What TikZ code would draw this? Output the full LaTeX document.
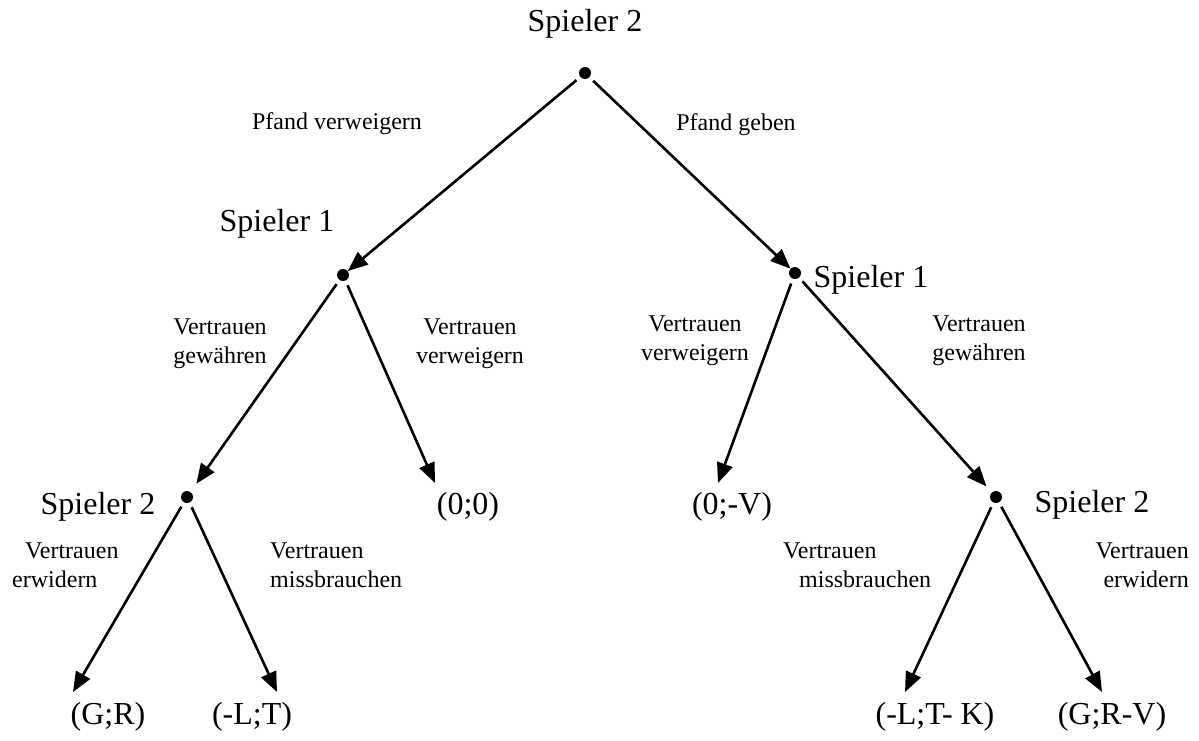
\documentclass[tikz,border=0pt]{standalone}
\usepackage{fontspec}
\setmainfont{Liberation Serif}
\usetikzlibrary{arrows.meta}
\begin{document}
\begin{tikzpicture}[x=1pt,y=-1pt,
  dot/.style={circle,fill=black,inner sep=0pt,minimum size=12pt},
  player/.style={inner sep=0pt,font=\fontsize{32}{36}\selectfont},
  payoff/.style={inner sep=0pt,font=\fontsize{32}{36}\selectfont},
  move/.style={inner sep=0pt,font=\fontsize{24}{29}\selectfont},
  edge/.style={line width=2.6pt,-{Triangle[length=20pt,width=16pt]}},
]
\useasboundingbox (0,0) rectangle (1199,740);

% decision nodes
\node[dot] (n0)  at (585,73)  {};
\node[dot] (n1L) at (343,275) {};
\node[dot] (n1R) at (795,273) {};
\node[dot] (n2L) at (187,497) {};
\node[dot] (n2R) at (996,497) {};

% player names
\node[player] (s0)  at (585,24)  {Spieler 2};
\node[player] (s1L) at (277,224) {Spieler 1};
\node[player] (s1R) at (871,280) {Spieler 1};
\node[player] (s2L) at (98,507)  {Spieler 2};
\node[player] (s2R) at (1092,505) {Spieler 2};

% payoffs
\node[payoff] (p1) at (108,717)  {(G;R)};
\node[payoff] (p2) at (252,717)  {(-L;T)};
\node[payoff] (p3) at (468,507)  {(0;0)};
\node[payoff] (p4) at (732,507)  {(0;-V)};
\node[payoff] (p5) at (935,717)  {(-L;T- K)};
\node[payoff] (p6) at (1112,717) {(G;R-V)};

% arrow ends above the payoffs
\coordinate (t1) at (73,692);
\coordinate (t2) at (277,692);
\coordinate (t3) at (435,483);
\coordinate (t4) at (718,483);
\coordinate (t5) at (905,692);
\coordinate (t6) at (1102,692);

% move labels
\node[move] (m1) at (337,124) {Pfand verweigern};
\node[move] (m2) at (736,125) {Pfand geben};
\node[move,align=center] (m3) at (220,344) {Vertrauen\\gewähren};
\node[move,align=center] (m4) at (470,344) {Vertrauen\\verweigern};
\node[move,align=center] (m5) at (695,341) {Vertrauen\\verweigern};
\node[move,align=center] (m6) at (979,341) {Vertrauen\\gewähren};
\node[move,align=left,anchor=west] (m7) at (12,565) {\hspace*{13pt}Vertrauen\\erwidern};
\node[move,align=left,anchor=west] (m8) at (270,565) {Vertrauen\\missbrauchen};
\node[move,align=left,anchor=west] (m9) at (783,565) {Vertrauen\\\hspace*{16pt}missbrauchen};
\node[move,align=right,anchor=east] (m10) at (1189,565) {Vertrauen\\erwidern};

% moves
\draw[edge,shorten <=5pt] (n0) -- (n1L);
\draw[edge,shorten <=5pt] (n0) -- (n1R);
\draw[edge,shorten <=5pt,shorten >=10pt] (n1L) -- (n2L);
\draw[edge,shorten <=5pt] (n1L) -- (t3);
\draw[edge,shorten <=5pt] (n1R) -- (t4);
\draw[edge,shorten <=5pt,shorten >=8pt] (n1R) -- (n2R);
\draw[edge,shorten <=5pt] (n2L) -- (t1);
\draw[edge,shorten <=5pt] (n2L) -- (t2);
\draw[edge,shorten <=5pt] (n2R) -- (t5);
\draw[edge,shorten <=5pt] (n2R) -- (t6);
\end{tikzpicture}
\end{document}
